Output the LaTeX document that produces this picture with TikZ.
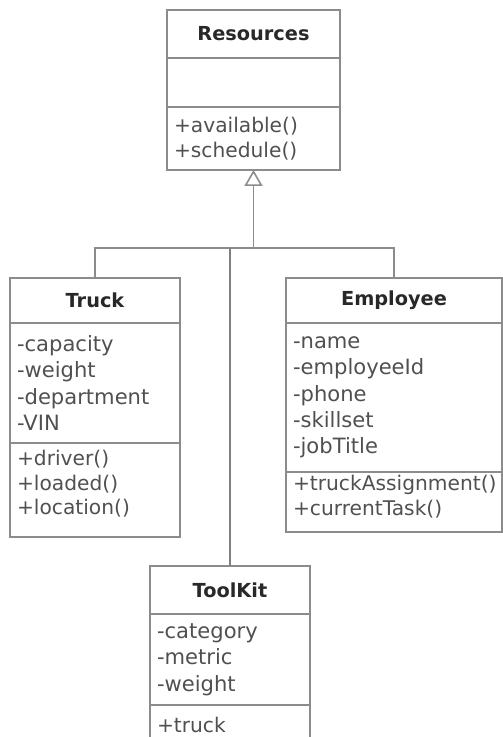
\documentclass[tikz,border=0pt]{standalone}
\usepackage{fontspec}
\setmainfont{DejaVu Sans}
\usetikzlibrary{arrows.meta, positioning}
\definecolor{lineGray}{RGB}{140,140,140}
\definecolor{textGray}{RGB}{80,80,80}
\definecolor{titleGray}{RGB}{40,40,40}

\begin{document}
\begin{tikzpicture}[
    x=0.02cm, y=-0.02cm,
    node distance=0pt,
    classtitle/.style={
      rectangle, draw=lineGray, line width=0.8pt, outer sep=0pt,
      inner xsep=0.14cm, inner ysep=0pt, align=center, text=titleGray,
      font=\fontsize{11}{13}\selectfont\bfseries
    },
    attrs/.style={classtitle, align=left, text=textGray,
      font=\fontsize{12}{15}\selectfont},
    ops/.style={attrs, font=\fontsize{11.5}{14}\selectfont},
    link/.style={draw=lineGray, line width=0.9pt},
    inherit/.style={link, -{Triangle[open, length=0.32cm, width=0.36cm, fill=white]}},
  ]
  \useasboundingbox (0,0) rectangle (503,737);
  \clip (0,0) rectangle (503,737);

  % Resources
  \node[classtitle, text width=3.18cm, minimum height=0.96cm] (resT) at (253.5,34) {Resources};
  \node[attrs, text width=3.18cm, minimum height=0.98cm, below=of resT] (resA) {};
  \node[ops, text width=3.18cm, minimum height=1.26cm, below=of resA] (resO) {+available()\\+schedule()};

  % Truck
  \node[classtitle, text width=3.12cm, minimum height=0.9cm] (truckT) at (95,300.5) {Truck};
  \node[attrs, text width=3.12cm, minimum height=2.4cm, below=of truckT] (truckA) {-capacity\\-weight\\-department\\-VIN};
  \node[ops, text width=3.12cm, minimum height=1.88cm, below=of truckA] (truckO) {+driver()\\+loaded()\\+location()\rule[-0.3cm]{0pt}{0.3cm}};

  % Employee
  \node[classtitle, text width=4.04cm, minimum height=0.9cm] (empT) at (394,300.5) {Employee};
  \node[attrs, text width=4.04cm, minimum height=2.98cm, below=of empT] (empA) {-name\\-employeeId\\-phone\\-skillset\\-jobTitle};
  \node[ops, text width=4.04cm, minimum height=1.2cm, below=of empA] (empO) {+truckAssignment()\\+currentTask()\rule[-0.26cm]{0pt}{0.26cm}};

  % ToolKit (runs past the bottom edge)
  \node[classtitle, text width=2.92cm, minimum height=0.96cm] (toolT) at (230,590) {ToolKit};
  \node[attrs, text width=2.92cm, minimum height=1.82cm, below=of toolT] (toolA) {-category\\-metric\\-weight};
  \node[ops, text width=2.92cm, minimum height=0.8cm, below=of toolA] (toolO) {+truck};

  % Generalisation
  \coordinate (bus) at (253.5,248);
  \draw[link] (truckT.north) |- (bus) -| (empT.north);
  \draw[link, draw=gray, line width=0.7pt] (toolT.north) -- (toolT.north |- bus);
  \draw[inherit] (bus) -- (resO.south);
\end{tikzpicture}
\end{document}
